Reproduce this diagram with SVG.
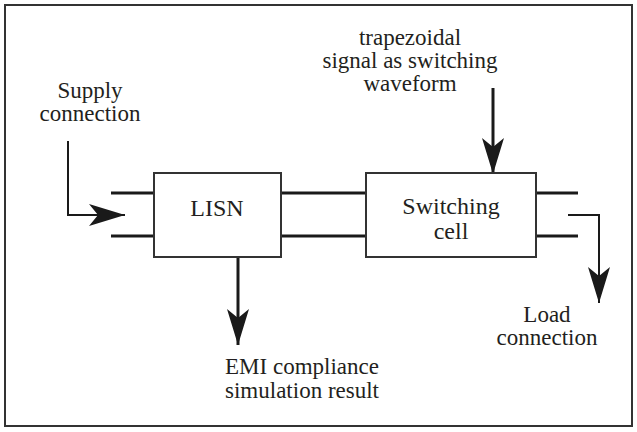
<svg xmlns="http://www.w3.org/2000/svg" width="637" height="432" viewBox="0 0 637 432">
<style>
.t{font-family:'Liberation Serif','Times New Roman',Times,serif;font-size:23px;fill:#231f20;text-anchor:middle}
.b{font-size:24px}
.box{fill:#fff;stroke:#333;stroke-width:2}
.bus{stroke:#1a1a1a;stroke-width:3;fill:none}
.thin{stroke:#1a1a1a;stroke-width:2;fill:none}
.thick{stroke:#1a1a1a;stroke-width:3;fill:none}
</style>
<defs>
<marker id="ah" markerUnits="userSpaceOnUse" markerWidth="38" markerHeight="24" refX="36" refY="11" orient="auto">
<path d="M0,0 L36,11 L0,22 L9,11 Z" fill="#1a1a1a"/>
</marker>
</defs>
<rect x="5" y="5" width="627" height="421" fill="#fff" stroke="#333" stroke-width="2"/>
<g id="connectors">
<path class="bus" d="M111,193 H154 M111,236 H154 M281,193 H366 M281,236 H366 M536,193 H578 M536,236 H578"/>
<path class="thin" d="M68,141 V215 H125" marker-end="url(#ah)"/>
<path class="thick" d="M493,88 V174" marker-end="url(#ah)"/>
<path class="thick" d="M238,257 V345" marker-end="url(#ah)"/>
<path class="thin" d="M568,215 H599 V303" marker-end="url(#ah)"/>
</g>
<g id="lisn">
<rect class="box" x="154" y="173" width="127" height="84"/>
<text class="t b" x="217" y="216">LISN</text>
</g>
<g id="switching-cell">
<rect class="box" x="366" y="173" width="170" height="84"/>
<text class="t b" x="451" y="214">Switching</text>
<text class="t b" x="451" y="239">cell</text>
</g>
<g id="supply">
<text class="t" x="90" y="98">Supply</text>
<text class="t" x="90" y="121">connection</text>
</g>
<g id="trapezoidal">
<text class="t" x="410" y="45">trapezoidal</text>
<text class="t" x="410" y="68">signal as switching</text>
<text class="t" x="410" y="91">waveform</text>
</g>
<g id="emi">
<text class="t" x="302" y="374">EMI compliance</text>
<text class="t" x="302" y="398">simulation result</text>
</g>
<g id="load">
<text class="t" x="547" y="322">Load</text>
<text class="t" x="547" y="345">connection</text>
</g>
</svg>
